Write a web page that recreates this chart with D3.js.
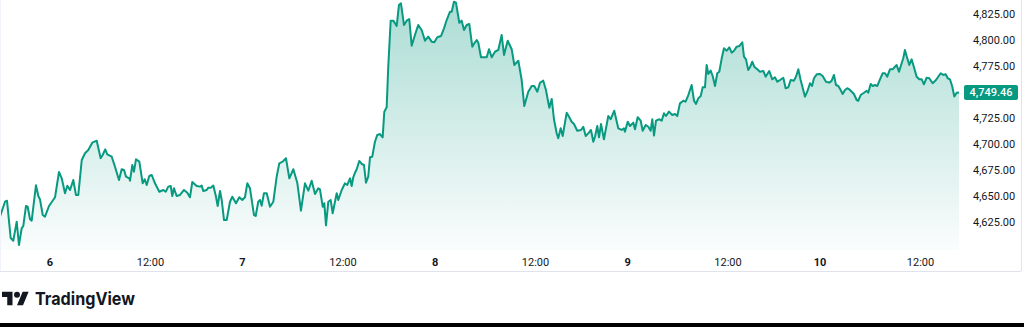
<!DOCTYPE html>
<html>
<head>
<meta charset="utf-8">
<script src="https://cdn.jsdelivr.net/npm/d3@7"></script>
<style>
  html, body { margin: 0; padding: 0; background: #fff; }
  svg { display: block; }
  .axis text { font-family: Roboto, "Noto Sans", sans-serif; font-size: 11px; fill: #131722; }
</style>
</head>
<body>
<svg id="chart" width="1024" height="327"></svg>
<script>
// trading hours since the first bar (18:00 of day 5), 23h sessions
var hours = [
  0.02,0.62,0.86,1.30,1.61,2.02,2.29,2.62,2.81,3.13,3.33,3.61,3.81,4.32,4.60,4.80,5.13,5.40,5.88,6.60,
  7.07,7.40,7.79,8.07,8.39,8.78,9.10,9.38,9.79,10.18,10.57,11.05,11.58,12.05,12.29,12.60,12.84,13.37,13.76,14.24,
  14.56,14.84,15.08,15.47,15.56,15.83,16.03,16.27,16.67,17.07,17.31,17.55,17.86,18.15,18.54,19.06,19.53,19.82,20.13,20.42,
  20.61,20.81,21.13,21.53,22.01,22.40,22.72,23.00,23.52,23.92,24.12,24.31,24.72,24.91,25.20,25.51,25.83,26.03,26.31,26.51,
  26.79,27.11,27.50,27.78,28.22,28.61,28.97,29.29,29.57,29.89,
  30.37,30.57,30.88,31.09,31.29,31.56,31.89,32.28,32.68,33.08,33.39,33.80,34.19,34.59,35.07,35.54,35.98,36.46,36.86,37.26,
  37.66,38.05,38.25,38.58,38.77,38.97,39.25,39.53,39.77,40.25,40.44,40.85,41.24,41.52,41.84,42.04,42.23,42.44,42.64,42.95,
  43.24,43.51,43.75,44.02,44.23,44.50,44.82,45.10,45.42,45.74,45.94,46.22,46.41,46.70,47.01,47.42,47.69,47.93,48.29,48.61,
  48.92,49.21,49.60,49.99,50.40,50.80,51.19,51.60,51.91,52.27,52.71,53.07,53.39,53.79,53.99,54.26,54.50,54.90,55.18,55.46,
  55.78,56.09,56.45,56.69,56.98,57.17,57.49,58.17,
  58.45,58.77,59.16,59.56,59.96,60.24,60.68,61.16,61.47,61.95,62.35,62.66,63.14,63.55,63.86,64.22,64.54,64.93,65.25,65.65,
  65.94,66.21,66.53,66.72,67.01,67.25,67.73,68.04,68.32,68.60,68.99,69.44,69.71,70.00,70.39,70.63,70.91,71.11,71.38,71.59,
  71.83,72.18,72.70,72.98,73.41,73.89,74.30,74.57,74.69,75.02,75.29,75.69,75.89,76.21,76.57,76.81,77.17,77.48,77.76,77.96,
  78.16,78.40,78.79,79.08,79.35,79.59,79.95,80.34,80.67,80.94,81.26,81.66,81.94,82.26,82.66,82.94,83.18,83.45,83.74,83.98,
  84.25,84.45,84.65,84.93,85.17,85.45,85.72,85.96,
  86.25,86.52,86.85,87.16,87.44,87.72,88.04,88.35,88.71,88.91,89.15,89.42,89.63,89.90,90.14,90.50,90.82,91.22,91.50,91.93,
  92.29,92.61,92.89,93.21,93.61,93.89,94.20,94.49,94.88,95.12,95.40,95.68,95.99,96.20,96.47,96.80,97.04,97.27,97.60,97.99,
  98.31,98.71,99.10,99.39,99.66,99.90,100.18,100.46,100.70,100.98,101.25,101.49,101.78,102.05,102.37,102.57,102.85,103.25,103.57,103.76,
  104.05,104.29,104.56,104.84,105.16,105.48,105.76,106.03,106.35,106.67,106.95,107.15,107.43,107.75,107.94,108.14,108.42,108.66,108.94,109.22,
  109.54,109.85,110.14,110.41,110.73,111.05,111.45,111.85,112.12,112.41,112.72,113.01,113.25,113.52,113.80,114.04,114.32,114.60
];

var prices = [
  4630.1,4644.5,4645.5,4609.6,4607.0,4625.3,4602.9,4619.2,4621.2,4640.4,4639.7,4627.6,4626.3,4660.3,4650.0,4646.8,4631.7,4630.1,4640.4,4648.8,
  4673.1,4667.0,4652.6,4659.9,4655.8,4665.4,4651.0,4651.0,4684.6,4691.1,4694.2,4701.3,4703.2,4686.3,4689.4,4694.9,4690.1,4687.8,4678.2,4665.4,
  4675.7,4675.0,4668.6,4667.0,4664.7,4679.8,4673.4,4685.3,4683.0,4662.2,4666.1,4660.6,4669.2,4670.2,4662.2,4654.1,4655.8,4654.1,4659.0,4659.6,
  4650.0,4657.4,4650.0,4651.0,4655.8,4653.2,4648.8,4663.5,4659.6,4659.0,4660.0,4654.8,4655.8,4658.0,4658.0,4660.0,4649.3,4640.4,4654.8,4646.2,
  4626.9,4626.9,4644.5,4649.3,4643.0,4648.8,4646.2,4648.8,4662.2,4657.4,
  4631.7,4630.8,4644.5,4646.2,4640.7,4652.6,4652.6,4639.7,4644.5,4668.6,4681.4,4683.0,4686.3,4667.0,4675.7,4662.8,4635.9,4662.2,4655.1,4664.7,
  4651.9,4657.4,4656.4,4639.7,4643.0,4621.8,4644.5,4646.2,4633.4,4652.6,4646.2,4655.8,4662.2,4660.6,4667.0,4659.6,4668.0,4672.4,4675.7,4683.7,
  4680.8,4679.8,4662.8,4668.6,4687.2,4687.8,4702.2,4708.7,4709.6,4706.4,4731.1,4735.3,4774.3,4818.6,4818.6,4813.5,4833.7,4835.3,4814.4,4818.6,
  4820.2,4794.5,4804.8,4814.4,4809.6,4799.3,4803.2,4798.4,4797.8,4802.6,4803.8,4811.2,4819.2,4827.2,4827.2,4836.8,4835.9,4816.6,4818.6,4809.6,
  4814.4,4815.4,4793.6,4796.8,4800.0,4797.4,4783.4,4783.4,
  4791.1,4783.4,4788.7,4790.4,4804.8,4785.6,4799.3,4791.1,4776.0,4780.1,4761.5,4736.5,4750.3,4755.8,4755.8,4750.3,4758.9,4760.9,4751.9,4734.9,
  4743.3,4723.8,4710.3,4705.5,4715.1,4707.7,4730.1,4725.7,4721.4,4719.2,4712.8,4713.5,4716.6,4707.7,4710.9,4713.5,4702.2,4707.0,4717.3,4706.4,
  4719.2,4704.5,4726.9,4723.8,4732.0,4715.1,4713.5,4715.1,4711.8,4721.4,4717.3,4720.5,4714.1,4725.7,4722.4,4712.8,4718.3,4716.6,4712.8,4723.8,
  4708.1,4722.4,4723.8,4722.4,4729.5,4726.9,4731.1,4727.9,4728.8,4726.9,4739.1,4741.6,4740.7,4747.1,4756.7,4741.6,4738.5,4743.9,4746.2,4754.5,
  4754.5,4776.0,4767.3,4770.5,4765.4,4755.8,4768.0,4769.5,
  4782.4,4792.0,4789.7,4793.0,4787.8,4789.7,4793.6,4794.2,4797.8,4784.0,4781.4,4771.2,4773.8,4779.1,4774.3,4771.8,4769.5,4770.2,4764.7,4770.2,
  4762.2,4764.1,4759.9,4761.5,4763.7,4753.6,4754.5,4761.5,4760.9,4764.7,4771.8,4761.5,4751.9,4745.5,4750.3,4758.4,4755.8,4763.2,4767.0,4767.3,
  4765.4,4759.9,4759.0,4760.9,4766.4,4756.7,4755.8,4751.9,4748.1,4751.9,4753.6,4752.6,4750.3,4748.1,4742.3,4741.6,4747.1,4749.3,4751.2,4749.3,
  4757.7,4755.8,4756.7,4755.8,4762.2,4768.0,4768.0,4764.7,4771.8,4771.8,4774.3,4775.9,4769.5,4777.6,4782.4,4790.4,4782.4,4776.0,4781.4,4773.8,
  4764.7,4762.2,4762.2,4757.4,4763.7,4763.2,4758.4,4761.5,4764.7,4768.0,4766.4,4767.0,4763.2,4762.2,4755.0,4745.6,4749.3,4749.46
];

var timeTickLabels = ["6", "12:00", "7", "12:00", "8", "12:00", "9", "12:00", "10", "12:00"];
var timeTickHours  = [6, 18, 29, 41, 52, 64, 75, 87, 98, 110];
// 4,750 is hidden behind the last-price tag in the original
var priceTicks = [4625, 4650, 4675, 4700, 4725, 4775, 4800, 4825];
var lastPrice = 4749.46;

var svg = d3.select("#chart");
var lineColor = "#089981";
var plotBottom = 250, axisBottom = 271, frameRight = 1021;

var x = d3.scaleLinear().domain([0, 120]).range([-0.2, -0.2 + 120 * 8.37]);
var y = d3.scaleLinear().domain([4625, 4825]).range([222, 14]);

var n = Math.min(hours.length, prices.length);
var data = d3.range(n).map(function(i) { return {t: hours[i], v: prices[i]}; });

var defs = svg.append("defs");
var grad = defs.append("linearGradient")
  .attr("id", "areaFill")
  .attr("gradientUnits", "userSpaceOnUse")
  .attr("x1", 0).attr("y1", 0).attr("x2", 0).attr("y2", plotBottom);
grad.append("stop").attr("offset", "0%").attr("stop-color", lineColor).attr("stop-opacity", 0.34);
grad.append("stop").attr("offset", "100%").attr("stop-color", lineColor).attr("stop-opacity", 0.02);

defs.append("clipPath").attr("id", "plotClip")
  .append("rect").attr("x", 0).attr("y", 0).attr("width", 962).attr("height", plotBottom);

var area = d3.area()
  .x(function(d) { return x(d.t); })
  .y0(plotBottom)
  .y1(function(d) { return y(d.v); });

var line = d3.line()
  .x(function(d) { return x(d.t); })
  .y(function(d) { return y(d.v); });

var plot = svg.append("g").attr("clip-path", "url(#plotClip)");
plot.append("path").datum(data).attr("d", area).attr("fill", "url(#areaFill)");
plot.append("path").datum(data).attr("d", line)
  .attr("fill", "none")
  .attr("stroke", lineColor)
  .attr("stroke-width", 2)
  .attr("stroke-linejoin", "round");

// frame
svg.append("line").attr("x1", 0).attr("x2", frameRight).attr("y1", axisBottom + 0.5).attr("y2", axisBottom + 0.5)
  .attr("stroke", "#e0e3eb");
svg.append("line").attr("x1", frameRight + 0.5).attr("x2", frameRight + 0.5).attr("y1", 0).attr("y2", axisBottom)
  .attr("stroke", "#e0e3eb");
svg.append("line").attr("x1", 0.5).attr("x2", 0.5).attr("y1", 0).attr("y2", axisBottom)
  .attr("stroke", "#f0f3fa");

// price axis on the right
var yAxis = svg.append("g").attr("class", "axis");
yAxis.selectAll("text.price").data(priceTicks).enter().append("text")
  .attr("class", "price")
  .attr("x", 973)
  .attr("y", function(d) { return y(d); })
  .attr("dy", "0.35em")
  .text(function(d) { return d3.format(",.2f")(d); });

// last price marker
var lastY = y(lastPrice);
yAxis.append("rect")
  .attr("x", 964).attr("y", lastY - 7.5)
  .attr("width", 54).attr("height", 15)
  .attr("rx", 2)
  .attr("fill", lineColor);
yAxis.append("text")
  .attr("x", 991).attr("y", lastY)
  .attr("dy", "0.35em")
  .attr("text-anchor", "middle")
  .style("fill", "#ffffff")
  .style("font-weight", 500)
  .text(d3.format(",.2f")(lastPrice));

// time axis
var xAxis = svg.append("g").attr("class", "axis");
xAxis.selectAll("text.time").data(timeTickHours).enter().append("text")
  .attr("class", "time")
  .attr("x", function(d) { return x(d); })
  .attr("y", 262)
  .attr("dy", "0.35em")
  .attr("text-anchor", "middle")
  .style("font-weight", function(d, i) { return timeTickLabels[i].indexOf(":") < 0 ? 700 : 400; })
  .text(function(d, i) { return timeTickLabels[i]; });

// TradingView mark
var logo = svg.append("g").attr("transform", "translate(2,288.7) scale(0.75)");
logo.append("path").attr("d", "M14 22H7V11H0V4h14v18zM28 22h-8l7.5-18h8L28 22z").attr("fill", "#131722");
logo.append("circle").attr("cx", 20).attr("cy", 8).attr("r", 4).attr("fill", "#131722");
svg.append("text")
  .attr("x", 35).attr("y", 305)
  .attr("textLength", 100)
  .attr("lengthAdjust", "spacingAndGlyphs")
  .style("font-family", "Inter, Roboto, sans-serif")
  .style("font-size", "18px")
  .style("font-weight", 700)
  .style("fill", "#131722")
  .text("TradingView");

// black strip at the bottom of the capture
svg.append("rect").attr("x", 0).attr("y", 323).attr("width", 1024).attr("height", 4).attr("fill", "#000");
</script>
</body>
</html>
